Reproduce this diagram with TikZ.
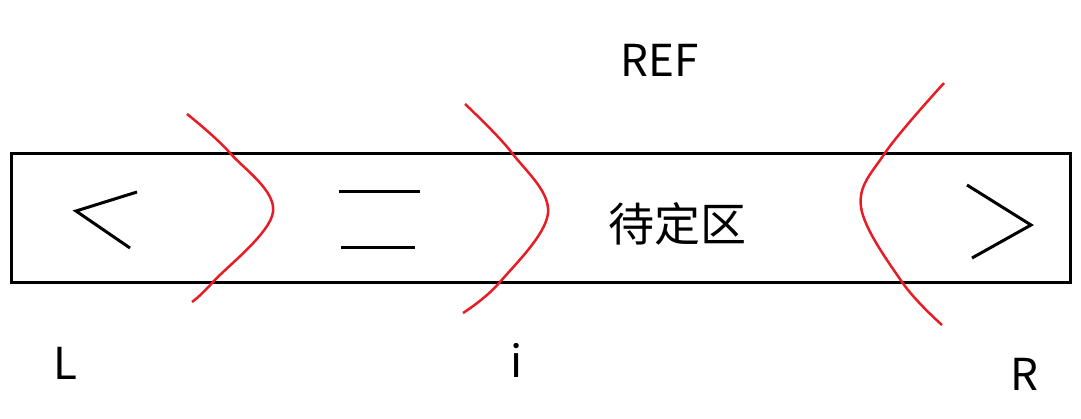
\documentclass[tikz,border=0pt]{standalone}
\usepackage{fontspec}
\setmainfont{Noto Sans CJK SC}
\definecolor{cutred}{RGB}{232,28,36}
\begin{document}
\begin{tikzpicture}[x=1pt,y=-1pt,
  box/.style={draw=black,line width=3pt},
  glyph/.style={draw=black,line width=3pt},
  cut/.style={draw=cutred,line width=2.5pt},
  lbl/.style={inner sep=0pt,font=\fontsize{44}{48}\selectfont},
  cjk/.style={inner sep=0pt,font=\fontsize{46}{50}\selectfont}]
\useasboundingbox (0,0) rectangle (1081,418);
\draw[box] (11,153) rectangle (1070,282);
% less-than
\draw[glyph] (137,192) -- (76,211) -- (130,248);
% equals
\draw[glyph] (339,191) -- (420,191);
\draw[glyph] (341,247) -- (415,247);
% greater-than
\draw[glyph] (967,185) -- (1031,225) -- (972,258);
% red cuts
\draw[cut] plot[smooth,tension=0.6] coordinates {(187,114) (230,153) (273,212) (213,282) (192,302)};
\draw[cut] plot[smooth,tension=0.6] coordinates {(465,104) (512,153) (548,213) (500,282) (463,313)};
\draw[cut] plot[smooth,tension=0.6] coordinates {(944,83) (885,153) (861,207) (902,282) (942,325)};
\node[lbl] (ref) at (660,60) {REF};
\node[cjk] (zone) at (677,224) {待定区};
\node[lbl] (L) at (65,363) {L};
\node[lbl] (i) at (517,360) {i};
\node[lbl] (R) at (1024,374) {R};
\end{tikzpicture}
\end{document}
